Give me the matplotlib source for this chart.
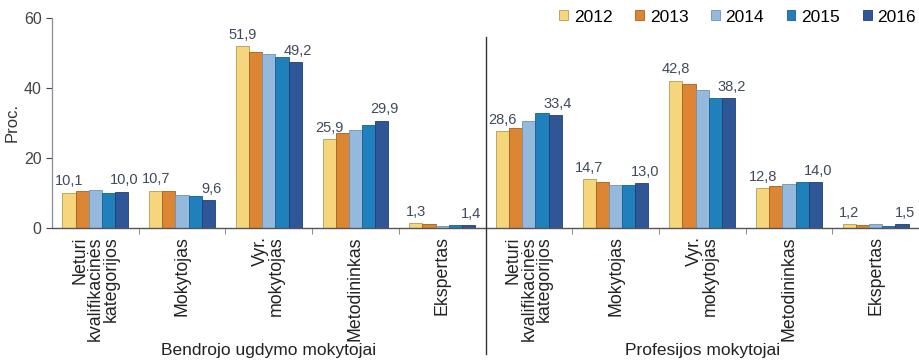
import matplotlib
matplotlib.use("Agg")
import matplotlib.pyplot as plt
import matplotlib.transforms as mtransforms
import numpy as np

plt.rcParams['font.family'] = ['Liberation Sans', 'DejaVu Sans']

# kategorijos (abi grupes po 5)
kategorijos = ["Neturi\nkvalifikacinės\nkategorijos", "Mokytojas", "Vyr.\nmokytojas",
               "Metodininkas", "Ekspertas"] * 2
grupes = ["Bendrojo ugdymo mokytojai", "Profesijos mokytojai"]
metai = ["2012", "2013", "2014", "2015", "2016"]

# stulpeliu aukstis (nuskaityta is paveikslo)
v2012 = [10.1, 10.7, 51.9, 25.4, 1.3, 27.8, 14.0, 42.1, 11.4, 1.0]
v2013 = [10.6, 10.6, 50.3, 27.1, 1.2, 28.6, 13.2, 41.1, 11.9, 0.8]
v2014 = [10.9, 9.3, 49.8, 28.1, 0.5, 30.6, 12.3, 39.5, 12.5, 1.2]
v2015 = [10.0, 9.2, 48.9, 29.4, 0.8, 32.9, 12.3, 37.1, 13.0, 0.7]
v2016 = [10.4, 8.0, 47.5, 30.7, 0.9, 32.2, 12.9, 37.1, 13.0, 1.1]
# uzrasai virs 2012 ir 2016 stulpeliu
txt2012 = ["10,1", "10,7", "51,9", "25,9", "1,3", "28,6", "14,7", "42,8", "12,8", "1,2"]
txt2016 = ["10,0", "9,6", "49,2", "29,9", "1,4", "33,4", "13,0", "38,2", "14,0", "1,5"]

spalvos = ["#f6d67c", "#dc8532", "#94b9dd", "#1f80bb", "#2f5696"]
krastai = ["#b89a4a", "#a8601f", "#6f92b5", "#17608e", "#213f70"]

fig = plt.figure(figsize=(9.19, 3.62), dpi=100)
ax = fig.add_axes([52/919, 1-228/362, 867/919, 210/362])

x = np.arange(len(kategorijos)) + 0.5
plotis = 0.152
serijos = [v2012, v2013, v2014, v2015, v2016]
bars = []
for i, vals in enumerate(serijos):
    b = ax.bar(x + (i - 2) * plotis, vals, plotis, color=spalvos[i], edgecolor=krastai[i],
               linewidth=0.6, label=metai[i], zorder=2)
    bars.append(b)

for rect, t in zip(bars[0], txt2012):
    ax.annotate(t, (rect.get_x() + rect.get_width()/2, rect.get_height()), xytext=(0, 3),
                textcoords="offset points", ha="center", va="bottom", fontsize=10.5, color="#3f4a5a")
for rect, t in zip(bars[4], txt2016):
    ax.annotate(t, (rect.get_x() + rect.get_width()/2, rect.get_height()), xytext=(2, 3),
                textcoords="offset points", ha="center", va="bottom", fontsize=10.5, color="#3f4a5a")

ax.set_xlim(0, 10)
ax.set_ylim(0, 60)
ax.set_yticks([0, 20, 40, 60])
ax.tick_params(axis="y", labelsize=11.5, colors="#444444", length=4, width=0.8)
ax.set_ylabel("Proc.", fontsize=12, color="#333333", labelpad=3)

ax.set_xticks([1, 2, 3, 4, 6, 7, 8, 9])
ax.set_xticklabels([])
ax.tick_params(axis="x", length=4, width=0.6, colors="#777777")
tr = mtransforms.blended_transform_factory(ax.transData, ax.transAxes)
for xi, lab in zip(x, kategorijos):
    ax.text(xi, -0.04, lab, transform=tr, rotation=90, ha="center", va="top",
            multialignment="right", fontsize=12.8, linespacing=0.9, color="#222222")

for k in ["top", "right"]:
    ax.spines[k].set_visible(False)
ax.spines["left"].set_color("#8a8fa0")
ax.spines["left"].set_linestyle((0, (1, 0.6)))
ax.spines["left"].set_linewidth(0.9)
ax.spines["bottom"].set_color("#555555")
ax.spines["bottom"].set_linewidth(1.0)

# skiriamoji linija tarp grupiu
ax.plot([5, 5], [0.91, -0.60], transform=tr, color="#333333", lw=1.0, clip_on=False, zorder=3)

ax.text(2.5, -0.585, grupes[0], transform=tr, ha="center", va="center", fontsize=12.5, color="#222222")
ax.text(7.5, -0.585, grupes[1], transform=tr, ha="center", va="center", fontsize=12.5, color="#222222")

fig.legend(handles=bars, labels=metai, loc="center right", bbox_to_anchor=(0.997, 0.953),
           ncol=5, frameon=False, fontsize=12.5, handlelength=0.5, handleheight=0.5,
           handletextpad=0.35, columnspacing=1.3, borderaxespad=0, borderpad=0)

fig.savefig("out.png", dpi=100)
